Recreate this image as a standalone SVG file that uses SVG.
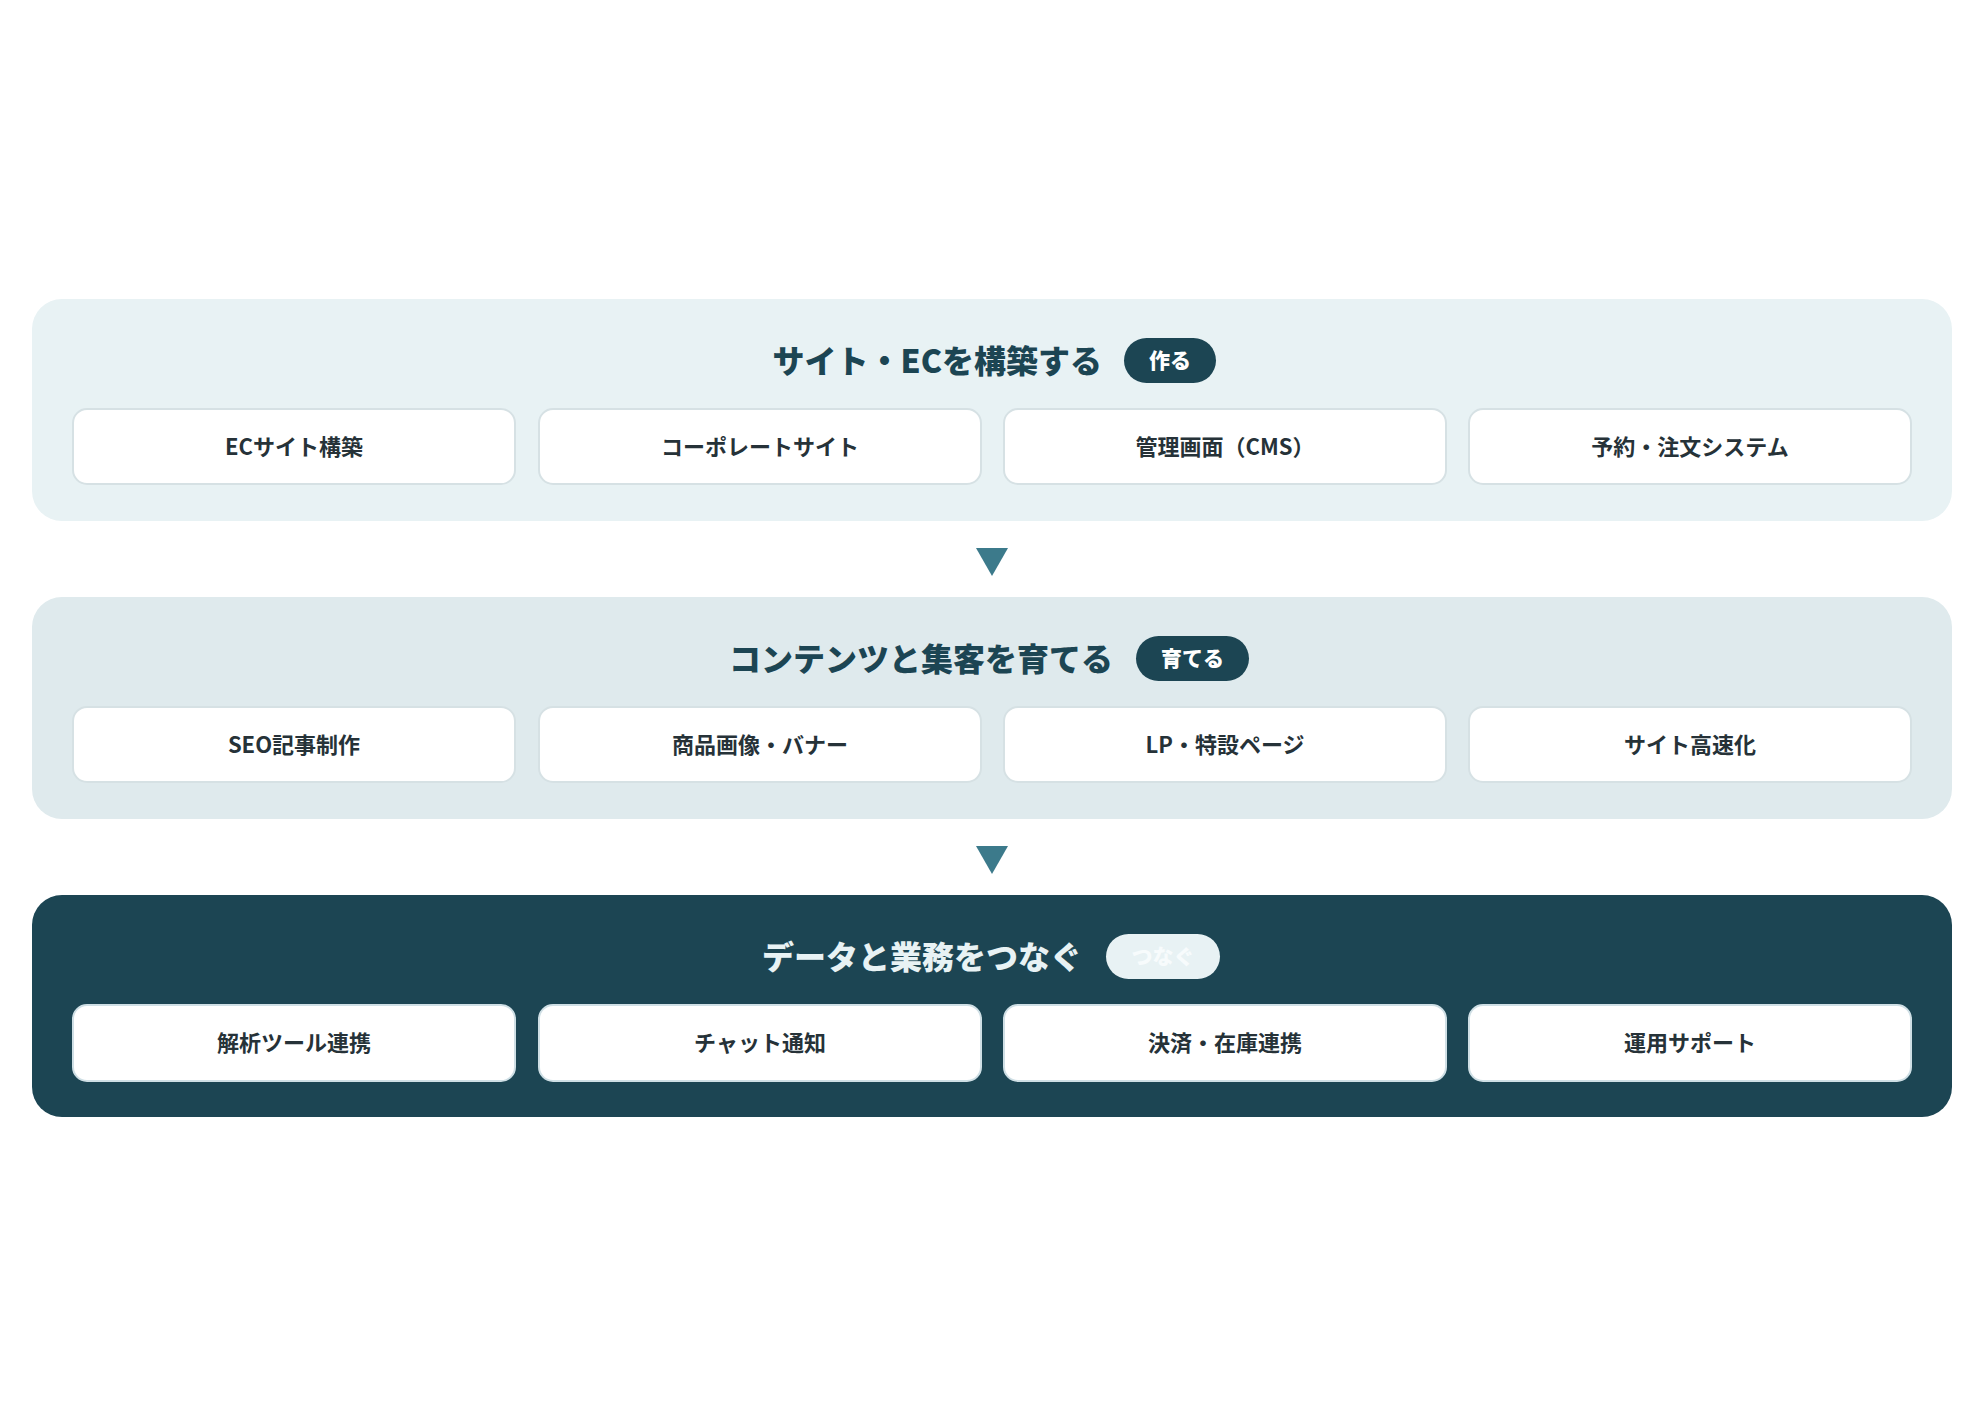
<svg xmlns="http://www.w3.org/2000/svg" width="1984" height="1418" viewBox="0 0 1984 1418">
<style>
  text { font-family: "Noto Sans CJK JP", "Noto Sans", sans-serif; font-weight: 700; }
  .panel1 { fill: #e8f2f4; }
  .panel2 { fill: #dfeaed; }
  .panel3 { fill: #1c4553; }
  .title { font-size: 32px; font-weight: 900; fill: #1c4553; text-anchor: end; dominant-baseline: central; }
  .title.dark { fill: #e8f2f4; }
  .badge { fill: #1c4553; }
  .badge.light { fill: #e8f2f4; }
  .badgetext { font-size: 21px; font-weight: 800; fill: #ffffff; text-anchor: middle; dominant-baseline: central; }
  .badgetext.light { fill: #f7fbfc; }
  .card { fill: #ffffff; stroke: #d6e1e4; stroke-width: 2; }
  .card.dark { stroke: #cfdfe5; }
  .cardtext { font-size: 22px; fill: #263238; text-anchor: middle; dominant-baseline: central; }
  .arrow { fill: #3c7a8b; }
</style>
<rect width="1984" height="1418" fill="#ffffff"/>

<g id="stage-build">
  <rect class="panel1" x="32" y="299" width="1920" height="222" rx="30"/>
  <text class="title" x="1102" y="359">サイト・ECを構築する</text>
  <rect class="badge" x="1124" y="338" width="92" height="45" rx="22.5"/>
  <text class="badgetext" x="1170" y="359">作る</text>
</g>
<g id="card-ec"><rect class="card" x="73" y="409" width="442" height="75" rx="14"/><text class="cardtext" x="294" y="445">ECサイト構築</text></g>
<g id="card-corporate"><rect class="card" x="539" y="409" width="442" height="75" rx="14"/><text class="cardtext" x="760" y="445">コーポレートサイト</text></g>
<g id="card-cms"><rect class="card" x="1004" y="409" width="442" height="75" rx="14"/><text class="cardtext" x="1225" y="445">管理画面（CMS）</text></g>
<g id="card-reserve"><rect class="card" x="1469" y="409" width="442" height="75" rx="14"/><text class="cardtext" x="1690" y="445">予約・注文システム</text></g>

<g id="stage-grow">
  <rect class="panel2" x="32" y="597" width="1920" height="222" rx="30"/>
  <text class="title" x="1113" y="657">コンテンツと集客を育てる</text>
  <rect class="badge" x="1136" y="636" width="113" height="45" rx="22.5"/>
  <text class="badgetext" x="1192.5" y="657">育てる</text>
</g>
<g id="card-seo"><rect class="card" x="73" y="707" width="442" height="75" rx="14"/><text class="cardtext" x="294" y="743">SEO記事制作</text></g>
<g id="card-image"><rect class="card" x="539" y="707" width="442" height="75" rx="14"/><text class="cardtext" x="760" y="743">商品画像・バナー</text></g>
<g id="card-lp"><rect class="card" x="1004" y="707" width="442" height="75" rx="14"/><text class="cardtext" x="1225" y="743">LP・特設ページ</text></g>
<g id="card-speed"><rect class="card" x="1469" y="707" width="442" height="75" rx="14"/><text class="cardtext" x="1690" y="743">サイト高速化</text></g>

<g id="stage-connect">
  <rect class="panel3" x="32" y="895" width="1920" height="222" rx="30"/>
  <text class="title dark" x="1082" y="955">データと業務をつなぐ</text>
  <rect class="badge light" x="1106" y="934" width="114" height="45" rx="22.5"/>
  <text class="badgetext light" x="1163" y="955">つなぐ</text>
</g>
<g id="card-analytics"><rect class="card dark" x="73" y="1005" width="442" height="76" rx="14"/><text class="cardtext" x="294" y="1041">解析ツール連携</text></g>
<g id="card-chat"><rect class="card dark" x="539" y="1005" width="442" height="76" rx="14"/><text class="cardtext" x="760" y="1041">チャット通知</text></g>
<g id="card-payment"><rect class="card dark" x="1004" y="1005" width="442" height="76" rx="14"/><text class="cardtext" x="1225" y="1041">決済・在庫連携</text></g>
<g id="card-support"><rect class="card dark" x="1469" y="1005" width="442" height="76" rx="14"/><text class="cardtext" x="1690" y="1041">運用サポート</text></g>

<g id="connectors">
  <polygon class="arrow" points="976,548 1008,548 992,576"/>
  <polygon class="arrow" points="976,846 1008,846 992,874"/>
</g>
</svg>
